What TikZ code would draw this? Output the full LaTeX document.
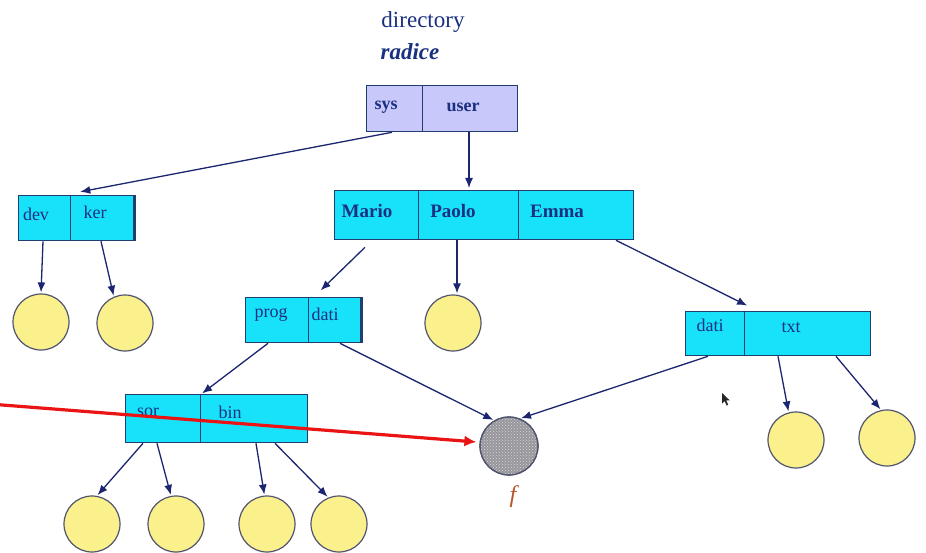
\documentclass[tikz,border=0pt]{standalone}
\usepackage{fontspec}
\setmainfont{Liberation Serif}
\usetikzlibrary{arrows.meta,calc,patterns}
\definecolor{navy}{RGB}{28,38,112}
\definecolor{boxline}{RGB}{34,62,112}
\definecolor{txtblue}{RGB}{26,48,128}
\definecolor{cyanbox}{RGB}{24,226,250}
\definecolor{lavbox}{RGB}{200,200,250}
\definecolor{leaf}{RGB}{250,240,140}
\definecolor{leafline}{RGB}{80,84,110}
\definecolor{fbrown}{RGB}{184,84,40}
\definecolor{redline}{RGB}{235,20,20}
\definecolor{fgray}{RGB}{150,150,156}
\tikzset{
  cell/.style={draw=boxline, line width=1.3pt, anchor=north west, inner sep=0pt},
  cyancell/.style={cell, fill=cyanbox},
  lavcell/.style={cell, fill=lavbox},
  lbl/.style={text=txtblue, inner sep=0pt, font=\fontsize{18}{21}\selectfont},
  blbl/.style={lbl, font=\fontsize{18}{21}\selectfont\bfseries},
  leafnode/.style={circle, draw=leafline, line width=1.2pt, fill=leaf, minimum size=56pt, inner sep=0pt},
  arr/.style={draw=navy, line width=1.3pt, -{Latex[length=10pt,width=8pt]}, shorten >=1pt},
  redarr/.style={draw=redline, line width=3.2pt, -{Latex[length=12pt,width=11pt]}}
}
\begin{document}
\begin{tikzpicture}[x=1pt,y=-1pt]
\useasboundingbox (0,0) rectangle (926,553);
\fill[white] (0,0) rectangle (926,553);

% title
\node[lbl, font=\fontsize{23}{26}\selectfont] (title1) at (423,22) {directory};
\node[lbl, font=\fontsize{23}{26}\selectfont\bfseries\itshape] (title2) at (410,52) {radice};

% root directory
\node[lavcell, minimum width=56pt, minimum height=46pt] (sys) at (366,85) {};
\node[lavcell, minimum width=95pt, minimum height=46pt] (user) at (422,85) {};
\node[blbl] (tsys) at (386,107) {sys};
\node[blbl] (tuser) at (463,107) {user};

% dev / ker
\node[cyancell, minimum width=52pt, minimum height=45pt] (dev) at (18,195) {};
\node[cyancell, minimum width=63pt, minimum height=45pt] (ker) at (70,195) {};
\draw[boxline, line width=2.4pt] (ker.north east) -- (ker.south east);
\node[lbl] (tdev) at (36,214) {dev};
\node[lbl] (tker) at (95,212) {ker};

% users
\node[cyancell, minimum width=84pt, minimum height=49pt] (mario) at (334,190) {};
\node[cyancell, minimum width=100pt, minimum height=49pt] (paolo) at (418,190) {};
\node[cyancell, minimum width=115pt, minimum height=49pt] (emma) at (518,190) {};
\node[blbl, font=\fontsize{19}{22}\selectfont\bfseries] (tmario) at (367,211) {Mario};
\node[blbl, font=\fontsize{19}{22}\selectfont\bfseries] (tpaolo) at (453,211) {Paolo};
\node[blbl, font=\fontsize{19}{22}\selectfont\bfseries] (temma) at (557,211) {Emma};

% prog / dati
\node[cyancell, minimum width=63pt, minimum height=45pt] (prog) at (245,297) {};
\node[cyancell, minimum width=52pt, minimum height=45pt] (datia) at (308,297) {};
\draw[boxline, line width=2.4pt] (datia.north east) -- (datia.south east);
\node[lbl] (tprog) at (271,315) {prog};
\node[lbl] (tdatia) at (325,314) {dati};

% dati / txt
\node[cyancell, minimum width=59pt, minimum height=44pt] (datib) at (685,311) {};
\node[cyancell, minimum width=126pt, minimum height=44pt] (txt) at (744,311) {};
\node[lbl] (tdatib) at (710,325) {dati};
\node[lbl] (ttxt) at (791,328) {txt};

% sor / bin
\node[cyancell, minimum width=75pt, minimum height=48pt] (sor) at (125,394) {};
\node[cyancell, minimum width=107pt, minimum height=48pt] (bin) at (200,394) {};
\node[lbl] (tsor) at (148,412) {sor};
\node[lbl] (tbin) at (230,412) {bin};

% leaf files
\node[leafnode] (c1) at (41,322) {};
\node[leafnode] (c2) at (125,323) {};
\node[leafnode] (c3) at (453,323) {};
\node[leafnode] (c4) at (796,440) {};
\node[leafnode] (c5) at (887,438) {};
\node[leafnode] (c6) at (92,524) {};
\node[leafnode] (c7) at (176,524) {};
\node[leafnode] (c8) at (267,524) {};
\node[leafnode] (c9) at (339,524) {};

% shared file f
\node[circle, draw=leafline, line width=1.2pt, fill=fgray, minimum size=58pt, inner sep=0pt] (f) at (509,446) {};
\fill[pattern=crosshatch dots, pattern color=white!70!gray] (f.center) circle (28.4);
\draw[leafline, line width=1.2pt] (f.center) circle (29);
\node[text=fbrown, font=\fontsize{24}{26}\selectfont\itshape] (tf) at (513,497) {f};

% links
\draw[arr] ($(sys.south west)+(26,0)$) -- ($(dev.north east)+(8,-3)$);
\draw[arr] ($(user.south west)+(47,0)$) -- ($(paolo.north west)+(51,-1)$);
\draw[arr] ($(dev.south west)+(25,0)$) -- (c1.north);
\draw[arr] ($(ker.south west)+(31,0)$) -- (c2.113);
\draw[arr] ($(mario.south west)+(31,7)$) -- ($(datia.north west)+(12,-6)$);
\draw[arr] ($(paolo.south west)+(39,0)$) -- ($(c3.north)+(4,0)$);
\draw[arr] ($(emma.south west)+(98,0)$) -- ($(txt.north west)+(4,-5)$);
\draw[arr] ($(prog.south west)+(23,0)$) -- (sor.north east);
\draw[arr] ($(datia.south west)+(32,0)$) -- (f.120);
\draw[arr] ($(datib.south west)+(23,0)$) -- (f.68);
\draw[arr] ($(txt.south west)+(34,0)$) -- (c4.105);
\draw[arr] ($(txt.south west)+(92,0)$) -- (c5.102);
\draw[arr] ($(sor.south west)+(18,0)$) -- (c6.80);
\draw[arr] ($(sor.south west)+(32,0)$) -- (c7.100);
\draw[arr] ($(bin.south west)+(56,0)$) -- (c8.95);
\draw[arr] ($(bin.south west)+(75,0)$) -- (c9.112);

% pointer to the shared file
\coordinate (rs) at (-4,404.5);
\draw[redarr] (rs) -- ($(f.west)+(-3,-4)$);

% mouse pointer
\fill[black!85] (722,393) -- (722,403.5) -- (724.6,401) -- (726.6,405.5) -- (728.2,404.8) -- (726.2,400.3) -- (729.6,400.3) -- cycle;
\end{tikzpicture}
\end{document}
